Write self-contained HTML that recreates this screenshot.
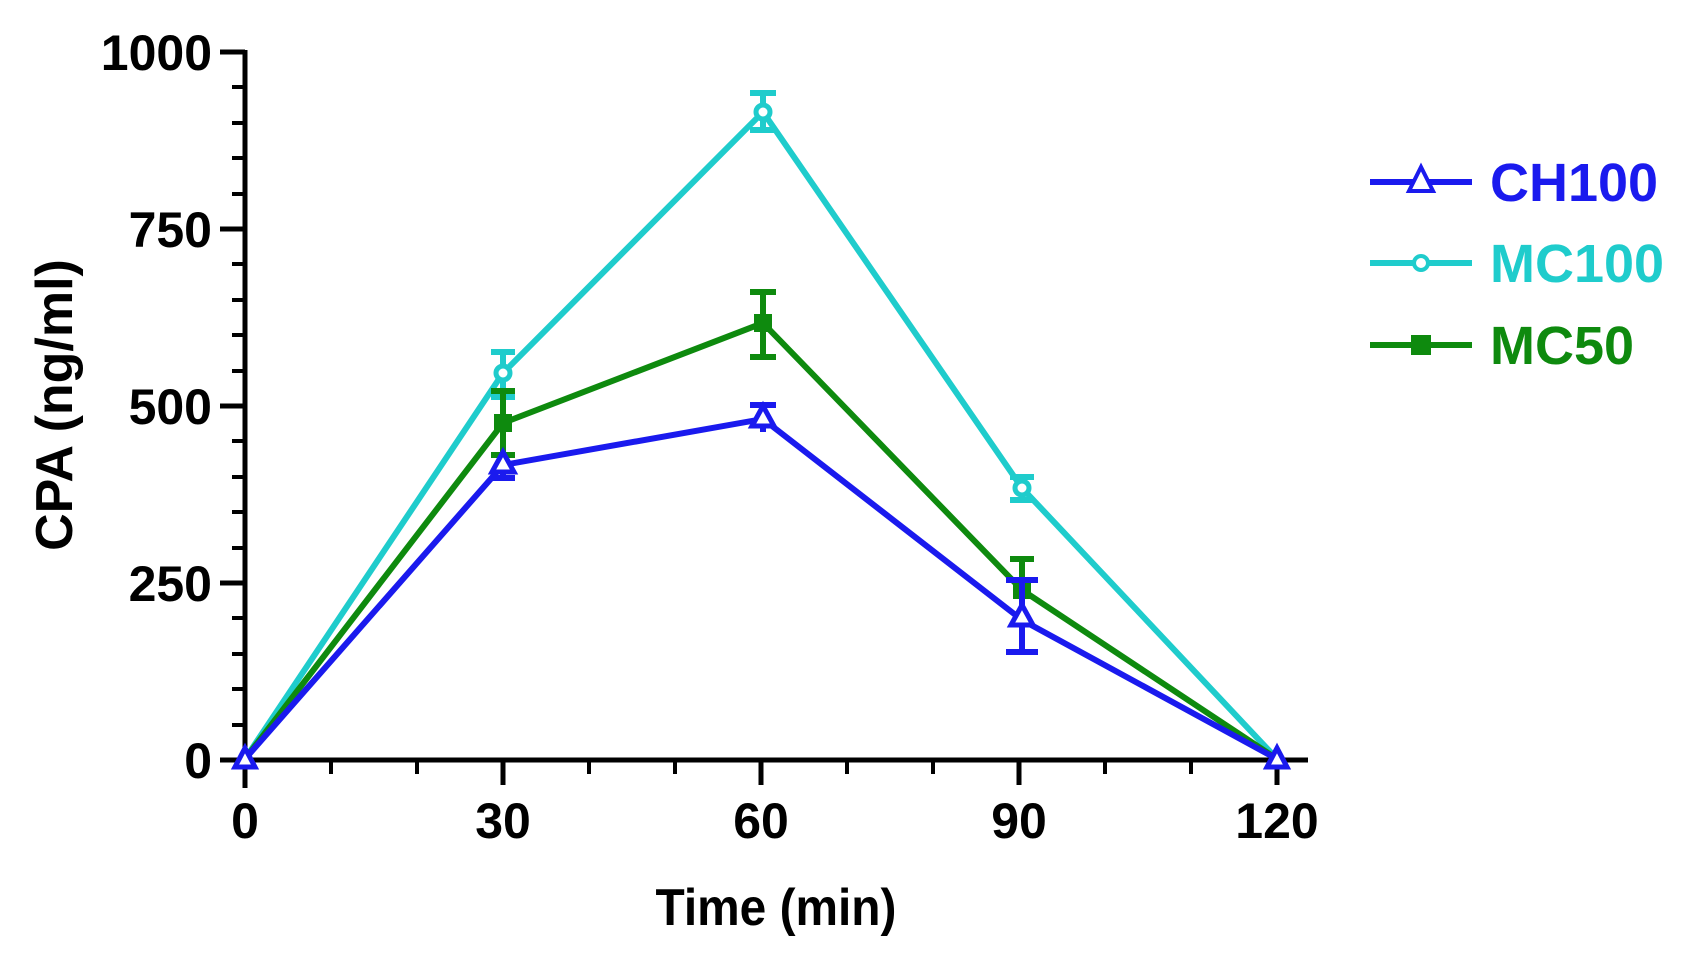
<!DOCTYPE html>
<html><head><meta charset="utf-8"><style>
html,body{margin:0;padding:0;background:#fff;}
svg{display:block;}
text{font-family:"Liberation Sans",Arial,sans-serif;}
</style></head><body>
<svg width="1702" height="960" viewBox="0 0 1702 960" xmlns="http://www.w3.org/2000/svg">
<g stroke="#000" stroke-width="5" fill="none">
  <line x1="245" y1="50" x2="245" y2="788"/>
  <line x1="220" y1="760" x2="1308" y2="760"/>
  <line x1="220" y1="52" x2="245" y2="52"/>
  <line x1="220" y1="229" x2="245" y2="229"/>
  <line x1="220" y1="406" x2="245" y2="406"/>
  <line x1="220" y1="583" x2="245" y2="583"/>
  <g stroke-width="4">
  <line x1="232" y1="87" x2="245" y2="87"/><line x1="232" y1="123" x2="245" y2="123"/><line x1="232" y1="158" x2="245" y2="158"/><line x1="232" y1="194" x2="245" y2="194"/>
  <line x1="232" y1="264" x2="245" y2="264"/><line x1="232" y1="300" x2="245" y2="300"/><line x1="232" y1="335" x2="245" y2="335"/><line x1="232" y1="371" x2="245" y2="371"/>
  <line x1="232" y1="441" x2="245" y2="441"/><line x1="232" y1="477" x2="245" y2="477"/><line x1="232" y1="512" x2="245" y2="512"/><line x1="232" y1="548" x2="245" y2="548"/>
  <line x1="232" y1="618" x2="245" y2="618"/><line x1="232" y1="654" x2="245" y2="654"/><line x1="232" y1="689" x2="245" y2="689"/><line x1="232" y1="725" x2="245" y2="725"/>
  <line x1="331" y1="760" x2="331" y2="774"/><line x1="417" y1="760" x2="417" y2="774"/>
  <line x1="589" y1="760" x2="589" y2="774"/><line x1="675" y1="760" x2="675" y2="774"/>
  <line x1="847" y1="760" x2="847" y2="774"/><line x1="933" y1="760" x2="933" y2="774"/>
  <line x1="1105" y1="760" x2="1105" y2="774"/><line x1="1191" y1="760" x2="1191" y2="774"/>
  </g>
  <line x1="503" y1="760" x2="503" y2="785"/>
  <line x1="761" y1="760" x2="761" y2="785"/>
  <line x1="1019" y1="760" x2="1019" y2="785"/>
  <line x1="1277" y1="760" x2="1277" y2="785"/>
</g>
<g font-size="50" font-weight="bold" text-anchor="end" fill="#000">
  <text x="212" y="70">1000</text>
  <text x="212" y="247">750</text>
  <text x="212" y="424">500</text>
  <text x="212" y="601">250</text>
  <text x="212" y="778">0</text>
</g>
<g font-size="50" font-weight="bold" text-anchor="middle" fill="#000">
  <text x="245" y="838">0</text>
  <text x="503" y="838">30</text>
  <text x="761" y="838">60</text>
  <text x="1019" y="838">90</text>
  <text x="1277" y="838">120</text>
</g>
<text x="776" y="925" font-size="52" font-weight="bold" text-anchor="middle" transform="translate(776,0) scale(0.92,1) translate(-776,0)">Time (min)</text>
<text transform="translate(72,405) rotate(-90)" font-size="52" font-weight="bold" text-anchor="middle">CPA  (ng/ml)</text>

<g stroke="#1fcccc" stroke-width="6" fill="none">
  <polyline points="245,759 503,373 763,112 1022,488 1277,759"/>
  <line x1="503" y1="352" x2="503" y2="397"/><line x1="491" y1="352" x2="515" y2="352"/><line x1="491" y1="397" x2="515" y2="397"/>
  <line x1="763" y1="93" x2="763" y2="130"/><line x1="750" y1="93" x2="776" y2="93"/><line x1="750" y1="130" x2="776" y2="130"/>
  <line x1="1022" y1="477" x2="1022" y2="500"/><line x1="1010" y1="477" x2="1034" y2="477"/><line x1="1010" y1="500" x2="1034" y2="500"/>
  <circle cx="503" cy="373" r="7" fill="#fff" stroke-width="5"/>
  <circle cx="763" cy="112" r="7" fill="#fff" stroke-width="5"/>
  <circle cx="1022" cy="488" r="7" fill="#fff" stroke-width="5"/>
</g>
<g stroke="#0e8a0e" stroke-width="6" fill="none">
  <polyline points="245,759 503,423 763,323 1022,590 1277,759"/>
  <line x1="503" y1="391" x2="503" y2="455"/><line x1="491" y1="391" x2="515" y2="391"/><line x1="491" y1="455" x2="515" y2="455"/>
  <line x1="763" y1="292" x2="763" y2="357"/><line x1="750" y1="292" x2="776" y2="292"/><line x1="750" y1="357" x2="776" y2="357"/>
  <line x1="1022" y1="559" x2="1022" y2="613"/><line x1="1010" y1="559" x2="1034" y2="559"/>
</g>
<g fill="#0e8a0e"><rect x="494" y="414" width="18" height="18"/><rect x="754" y="314" width="18" height="18"/><rect x="1013" y="581" width="18" height="18"/></g>
<g stroke="#1a1aee" stroke-width="6" fill="none">
  <polyline points="245,759 503,465 763,419 1022,620 1277,759"/>
  <line x1="503" y1="452" x2="503" y2="478"/><line x1="491" y1="478" x2="515" y2="478"/>
  <line x1="763" y1="405" x2="763" y2="432"/><line x1="750" y1="405" x2="776" y2="405"/>
  <line x1="1022" y1="580" x2="1022" y2="652"/><line x1="1006" y1="580" x2="1038" y2="580"/><line x1="1006" y1="652" x2="1038" y2="652"/>
  <polygon points="503,452 492,472 514,472" fill="#fff" stroke-width="5"/>
  <polygon points="763,406 752,426 774,426" fill="#fff" stroke-width="5"/>
  <polygon points="1022,605 1011,625 1033,625" fill="#fff" stroke-width="5"/>
  <polygon points="245,748 235,767 255,767" fill="#fff" stroke-width="5"/>
  <polygon points="1277,748 1267,767 1287,767" fill="#fff" stroke-width="5"/>
</g>
<g stroke-width="6">
  <line x1="1370" y1="182" x2="1472" y2="182" stroke="#1a1aee"/>
  <polygon points="1421,167 1409,191 1433,191" fill="#fff" stroke="#1a1aee" stroke-width="4"/>
  <line x1="1370" y1="263" x2="1472" y2="263" stroke="#1fcccc"/>
  <circle cx="1421" cy="263" r="7" fill="#fff" stroke="#1fcccc" stroke-width="4"/>
  <line x1="1370" y1="345" x2="1472" y2="345" stroke="#0e8a0e"/>
  <rect x="1411" y="335" width="20" height="20" fill="#0e8a0e"/>
</g>
<g font-size="54" font-weight="bold">
  <text x="1490" y="201" fill="#1a1aee">CH100</text>
  <text x="1490" y="282" fill="#1fcccc">MC100</text>
  <text x="1490" y="364" fill="#0e8a0e">MC50</text>
</g>
</svg>
</body></html>
